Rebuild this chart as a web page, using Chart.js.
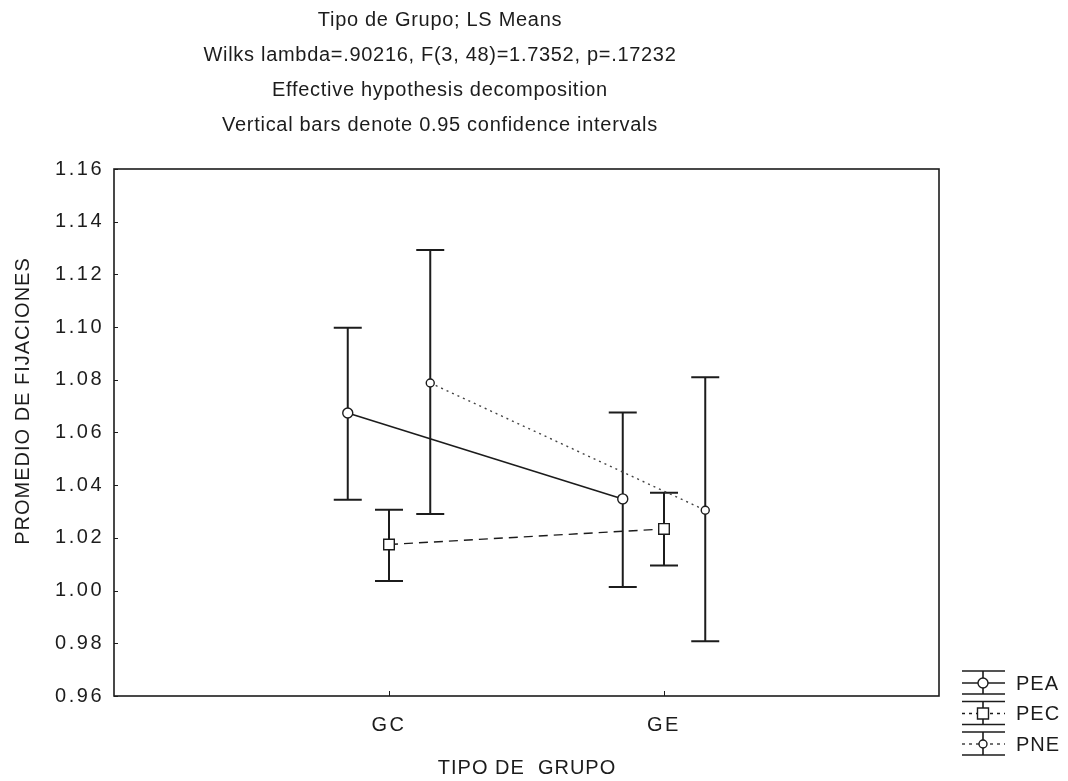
<!DOCTYPE html>
<html>
<head>
<meta charset="utf-8">
<script src="https://cdn.jsdelivr.net/npm/chart.js@4"></script>
<style>
  html, body { margin: 0; padding: 0; background: #fff; }
  #wrap { width: 1068px; height: 781px; }
</style>
</head>
<body>
<div id="wrap"><canvas id="meansChart" width="1068" height="781"></canvas></div>
<script>
// categories and series
const groups = ['GC', 'GE'];
const seriesNames = ['PEA', 'PEC', 'PNE'];

// LS means and 0.95 confidence limits
const peaMean = [1.0674, 1.0348];
const peaLow  = [1.0345, 1.0014];
const peaHigh = [1.0998, 1.0676];

const pecMean = [1.0175, 1.0234];
const pecLow  = [1.0036, 1.0095];
const pecHigh = [1.0307, 1.0371];

const pneMean = [1.0788, 1.0305];
const pneLow  = [1.0291, 0.9808];
const pneHigh = [1.1293, 1.0810];

const yTickLabels = ['0.96', '0.98', '1.00', '1.02', '1.04', '1.06', '1.08', '1.10', '1.12', '1.14', '1.16'];

const titleLines = [
    'Tipo de Grupo; LS Means',
    'Wilks lambda=.90216, F(3, 48)=1.7352, p=.17232',
    'Effective hypothesis decomposition',
    'Vertical bars denote 0.95 confidence intervals'
];

// horizontal shift of each series around its group
const shift = [-0.15, 0, 0.15];
const ink = '#1c1c1c';
const FONT = '"Liberation Sans", Arial, sans-serif';

const means = [peaMean, pecMean, pneMean];
const lows = [peaLow, pecLow, pneLow];
const highs = [peaHigh, pecHigh, pneHigh];

const styles = [
    { dash: [], width: 1.6, color: ink, point: 'circle', radius: 5 },
    { dash: [9, 6], width: 1.4, color: ink, point: 'rect', radius: 7.5 },
    { dash: [2, 4], width: 1.4, color: '#444', point: 'circle', radius: 4 }
];

function buildDatasets() {
    return seriesNames.map((name, s) => ({
        label: name,
        data: groups.map((g, i) => ({ x: i + 1 + shift[s], y: means[s][i] })),
        showLine: true,
        borderColor: styles[s].color,
        borderWidth: styles[s].width,
        borderDash: styles[s].dash,
        pointStyle: styles[s].point,
        pointRadius: styles[s].radius,
        pointBackgroundColor: '#fff',
        pointBorderColor: ink,
        pointBorderWidth: 1.4,
        fill: false
    }));
}

const errorBars = {
    id: 'errorBars',
    beforeDatasetsDraw(chart) {
        const ctx = chart.ctx;
        const xs = chart.scales.x, ys = chart.scales.y;
        ctx.save();
        ctx.strokeStyle = ink;
        ctx.lineWidth = 2;
        seriesNames.forEach((name, s) => {
            groups.forEach((g, i) => {
                const px = xs.getPixelForValue(i + 1 + shift[s]);
                const top = ys.getPixelForValue(highs[s][i]);
                const bot = ys.getPixelForValue(lows[s][i]);
                ctx.beginPath();
                ctx.moveTo(px, top); ctx.lineTo(px, bot);
                ctx.moveTo(px - 14, top); ctx.lineTo(px + 14, top);
                ctx.moveTo(px - 14, bot); ctx.lineTo(px + 14, bot);
                ctx.stroke();
            });
        });
        ctx.restore();
    }
};

const frameAndText = {
    id: 'frameAndText',
    beforeDraw(chart) {
        // wide spacing of the axis numbers, as in the original export
        chart.ctx.letterSpacing = '2.5px';
    },
    afterDraw(chart) {
        const ctx = chart.ctx;
        const a = chart.chartArea;
        const xs = chart.scales.x, ys = chart.scales.y;
        ctx.save();
        ctx.strokeStyle = ink;
        ctx.lineWidth = 1.6;
        ctx.strokeRect(a.left, a.top, a.right - a.left, a.bottom - a.top);

        // inward tick marks
        ctx.lineWidth = 1;
        ctx.beginPath();
        yTickLabels.forEach(t => {
            const py = Math.round(ys.getPixelForValue(parseFloat(t))) + 0.5;
            ctx.moveTo(a.left, py); ctx.lineTo(a.left + 4, py);
        });
        groups.forEach((g, i) => {
            const px = Math.round(xs.getPixelForValue(i + 1)) + 0.5;
            ctx.moveTo(px, a.bottom); ctx.lineTo(px, a.bottom - 5);
        });
        ctx.stroke();

        // titles
        ctx.fillStyle = ink;
        ctx.font = '20px ' + FONT;
        ctx.letterSpacing = '0.7px';
        ctx.textAlign = 'center';
        ctx.textBaseline = 'middle';
        titleLines.forEach((line, i) => ctx.fillText(line, 440, 20 + i * 35));

        // axis titles
        ctx.letterSpacing = '1px';
        ctx.fillText('TIPO DE  GRUPO', 527, 768);
        ctx.save();
        ctx.translate(23, 401);
        ctx.rotate(-Math.PI / 2);
        ctx.fillText('PROMEDIO DE FIJACIONES', 0, 0);
        ctx.restore();

        // legend
        const x0 = 962, x1 = 1005, xm = 983;
        seriesNames.forEach((name, s) => {
            const cy = 683 + s * 30.5;
            ctx.lineWidth = 1.6;
            ctx.strokeStyle = ink;
            ctx.setLineDash([]);
            ctx.beginPath();
            ctx.moveTo(x0, cy - 12); ctx.lineTo(x1, cy - 12);
            ctx.moveTo(x0, cy + 11); ctx.lineTo(x1, cy + 11);
            ctx.moveTo(xm, cy - 12); ctx.lineTo(xm, cy + 11);
            ctx.stroke();
            ctx.lineWidth = styles[s].width;
            ctx.strokeStyle = styles[s].color;
            ctx.setLineDash(styles[s].dash.length ? [3, 4] : []);
            ctx.beginPath();
            ctx.moveTo(x0, cy); ctx.lineTo(x1, cy);
            ctx.stroke();
            ctx.setLineDash([]);
            ctx.fillStyle = '#fff';
            ctx.strokeStyle = ink;
            ctx.lineWidth = 1.4;
            ctx.beginPath();
            if (styles[s].point === 'rect') {
                ctx.rect(xm - 5.5, cy - 5.5, 11, 11);
            } else {
                ctx.arc(xm, cy, styles[s].radius, 0, Math.PI * 2);
            }
            ctx.fill();
            ctx.stroke();
            ctx.fillStyle = ink;
            ctx.textAlign = 'left';
            ctx.fillText(name, 1016, cy + 1);
        });
        ctx.restore();
    }
};

new Chart(document.getElementById('meansChart').getContext('2d'), {
    type: 'scatter',
    data: { datasets: buildDatasets() },
    plugins: [errorBars, frameAndText],
    options: {
        responsive: false,
        animation: false,
        layout: { padding: { left: 0, right: 129, top: 169, bottom: 0 } },
        plugins: {
            legend: { display: false },
            title: { display: false },
            tooltip: { enabled: false }
        },
        scales: {
            x: {
                type: 'linear',
                min: 0,
                max: 3,
                afterBuildTicks(scale) {
                    scale.ticks = groups.map((g, i) => ({ value: i + 1 }));
                },
                afterFit(scale) { scale.height = 85; },
                grid: { display: false, drawTicks: false },
                border: { display: false },
                ticks: {
                    color: ink,
                    font: { family: FONT, size: 20 },
                    padding: 17,
                    callback: v => groups[v - 1]
                }
            },
            y: {
                min: 0.96,
                max: 1.16,
                afterBuildTicks(scale) {
                    scale.ticks = yTickLabels.map(t => ({ value: parseFloat(t) }));
                },
                afterFit(scale) { scale.width = 114; },
                grid: { display: false, drawTicks: false },
                border: { display: false },
                ticks: {
                    color: ink,
                    font: { family: FONT, size: 20 },
                    padding: 10,
                    callback: (v, i) => yTickLabels[i]
                }
            }
        }
    }
});
</script>
</body>
</html>
